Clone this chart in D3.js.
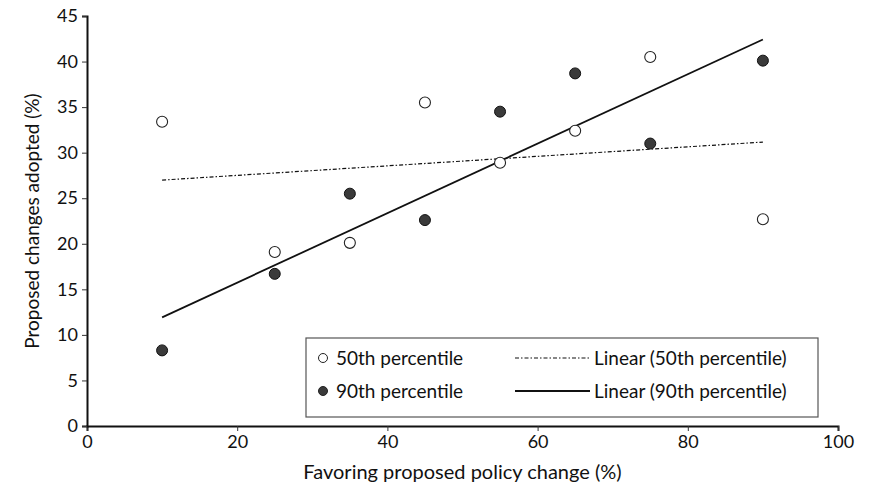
<!DOCTYPE html>
<html>
<head>
<meta charset="utf-8">
<script src="https://cdn.jsdelivr.net/npm/d3@7"></script>
<style>
  body { margin: 0; background: #fff; }
  text { font-family: Lato, "Open Sans", sans-serif; fill: #111; }
</style>
</head>
<body>
<script>
var w = 872;
var h = 490;
var margin = {top: 16, right: 34, bottom: 64, left: 87};

// data
var favoring = [10, 25, 35, 45, 55, 65, 75, 90];
var p50 = [33.4, 19.1, 20.1, 35.5, 28.9, 32.4, 40.5, 22.7];
var p90 = [8.3, 16.7, 25.5, 22.6, 34.5, 38.7, 31.0, 40.1];
var xTicks = [0, 20, 40, 60, 80, 100];
var yTicks = [0, 5, 10, 15, 20, 25, 30, 35, 40, 45];

var svg = d3.select("body")
    .append("svg")
    .attr("width", w)
    .attr("height", h);

var x = d3.scaleLinear().domain([0, 100]).range([margin.left, w - margin.right]);
var y = d3.scaleLinear().domain([0, 45]).range([h - margin.bottom, margin.top]);

// least squares fit, like the spreadsheet trendline
var fit = function(xs, ys) {
    var mx = d3.mean(xs), my = d3.mean(ys);
    var num = 0, den = 0;
    for (var i = 0; i < xs.length; i++) {
        num += (xs[i] - mx) * (ys[i] - my);
        den += (xs[i] - mx) * (xs[i] - mx);
    }
    var b = num / den;
    return function(v) { return my + b * (v - mx); };
};

var xmin = d3.min(favoring), xmax = d3.max(favoring);
var f50 = fit(favoring, p50);
var f90 = fit(favoring, p90);

// axes
var xAxis = svg.append("g")
    .attr("transform", "translate(0," + y(0) + ")")
    .call(d3.axisBottom(x).tickValues(xTicks).tickSize(5).tickPadding(4));
var yAxis = svg.append("g")
    .attr("transform", "translate(" + x(0) + ",0)")
    .call(d3.axisLeft(y).tickValues(yTicks).tickSize(5).tickPadding(4));

[xAxis, yAxis].forEach(function(a) {
    a.select(".domain").attr("stroke", "#111").attr("stroke-width", 2);
    a.selectAll(".tick line").attr("stroke", "#333").attr("stroke-width", 1);
    a.selectAll(".tick text")
        .attr("font-family", "Lato, sans-serif")
        .attr("font-size", 18)
        .attr("fill", "#111");
});

svg.append("text")
    .attr("x", x(50))
    .attr("y", 479)
    .attr("text-anchor", "middle")
    .attr("font-size", 20)
    .text("Favoring proposed policy change (%)");

svg.append("text")
    .attr("transform", "translate(39," + y(22.5) + ") rotate(-90)")
    .attr("text-anchor", "middle")
    .attr("font-size", 19)
    .text("Proposed changes adopted (%)");

// trend lines
svg.append("line")
    .attr("x1", x(xmin)).attr("y1", y(f50(xmin)))
    .attr("x2", x(xmax)).attr("y2", y(f50(xmax)))
    .attr("stroke", "#111").attr("stroke-width", 1.2)
    .attr("stroke-dasharray", "4,2,1.5,2");

svg.append("line")
    .attr("x1", x(xmin)).attr("y1", y(f90(xmin)))
    .attr("x2", x(xmax)).attr("y2", y(f90(xmax)))
    .attr("stroke", "#111").attr("stroke-width", 1.8);

// points
svg.selectAll(".p50")
    .data(favoring)
    .enter()
    .append("circle")
    .attr("class", "p50")
    .attr("cx", function(d) { return x(d); })
    .attr("cy", function(d, i) { return y(p50[i]); })
    .attr("r", 5.5)
    .attr("fill", "#fff")
    .attr("stroke", "#222")
    .attr("stroke-width", 1.1);

svg.selectAll(".p90")
    .data(favoring)
    .enter()
    .append("circle")
    .attr("class", "p90")
    .attr("cx", function(d) { return x(d); })
    .attr("cy", function(d, i) { return y(p90[i]); })
    .attr("r", 5.5)
    .attr("fill", "#3a3a3a")
    .attr("stroke", "#111")
    .attr("stroke-width", 1);

// legend
var lg = svg.append("g").attr("transform", "translate(306,338)");
lg.append("rect")
    .attr("width", 512).attr("height", 79)
    .attr("fill", "#fff")
    .attr("stroke", "#555").attr("stroke-width", 1.2);

var rows = [
    {label: "50th percentile", fill: "#fff", dash: "4,2,1.5,2", line: "Linear (50th percentile)", lw: 1.2},
    {label: "90th percentile", fill: "#3a3a3a", dash: null, line: "Linear (90th percentile)", lw: 1.8}
];
rows.forEach(function(r, i) {
    var cy = 20 + i * 33;
    lg.append("circle")
        .attr("cx", 17).attr("cy", cy).attr("r", 4.5)
        .attr("fill", r.fill).attr("stroke", "#222").attr("stroke-width", 1);
    lg.append("text")
        .attr("x", 30).attr("y", cy + 7)
        .attr("font-size", 19)
        .text(r.label);
    lg.append("line")
        .attr("x1", 209).attr("x2", 284)
        .attr("y1", cy).attr("y2", cy)
        .attr("stroke", "#111").attr("stroke-width", r.lw)
        .attr("stroke-dasharray", r.dash);
    lg.append("text")
        .attr("x", 288).attr("y", cy + 7)
        .attr("font-size", 19)
        .text(r.line);
});
</script>
</body>
</html>
